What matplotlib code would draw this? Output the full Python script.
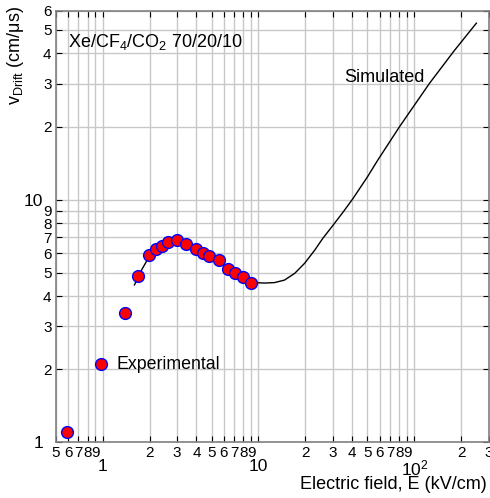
import matplotlib
matplotlib.use("Agg")
import matplotlib.pyplot as plt
from matplotlib.ticker import FixedLocator, FixedFormatter

plt.rcParams['font.family'] = ['Liberation Sans', 'DejaVu Sans']

# experimental points (kV/cm, cm/us)
exp_E = [0.59, 0.98, 1.39, 1.68, 1.98, 2.20, 2.39, 2.63, 2.98, 3.42, 4.0, 4.42,
         4.82, 5.59, 6.39, 7.02, 7.97, 9.02]
exp_v = [1.10, 2.10, 3.41, 4.84, 5.91, 6.24, 6.44, 6.71, 6.80, 6.56, 6.28, 6.01,
         5.86, 5.62, 5.18, 5.00, 4.78, 4.52]

# simulated curve
sim_E = [1.6, 1.8, 2.0, 2.3, 2.6, 2.9, 3.3, 3.8, 4.5, 5.3, 6.3, 7.5, 9.0, 10.0,
         11.0, 12.7, 14.7, 17.1, 19.8, 23.0, 25.9, 29.4, 35, 40.4, 50, 58.5,
         80.5, 125, 180, 250]
sim_v = [4.45, 5.2, 5.85, 6.4, 6.75, 6.85, 6.72, 6.4, 6.0, 5.62, 5.22, 4.87,
         4.57, 4.54, 4.53, 4.55, 4.66, 4.97, 5.47, 6.2, 6.93, 7.69, 8.9, 10.1,
         12.4, 14.6, 20.0, 30.1, 41, 53.3]

x_major = [1, 10, 100]
x_major_labels = ['1', '10', r'$\mathregular{10^2}$']
x_minor = [0.5, 0.6, 0.7, 0.8, 0.9, 2, 3, 4, 5, 6, 7, 8, 9,
           20, 30, 40, 50, 60, 70, 80, 90, 200, 300]
x_minor_labels = ['5', '6', '7', '8', '9', '2', '3', '4', '5', '6', '7', '8', '9',
                  '2', '3', '4', '5', '6', '7', '8', '9', '2', '3']
y_major = [1, 10]
y_major_labels = ['1', '10']
y_minor = [2, 3, 4, 5, 6, 7, 8, 9, 20, 30, 40, 50, 60]
y_minor_labels = ['2', '3', '4', '5', '6', '7', '8', '9', '2', '3', '4', '5', '6']

fig = plt.figure(figsize=(4.9, 4.98), dpi=100)
ax = fig.add_axes([55.7 / 490, 1 - 442.3 / 498, 433 / 490, 431.6 / 498])
ax.set_xscale('log')
ax.set_yscale('log')
ax.set_xlim(0.5, 300)
ax.set_ylim(1, 60)

ax.xaxis.set_major_locator(FixedLocator(x_major))
ax.xaxis.set_major_formatter(FixedFormatter(x_major_labels))
ax.xaxis.set_minor_locator(FixedLocator(x_minor))
ax.xaxis.set_minor_formatter(FixedFormatter(x_minor_labels))
ax.yaxis.set_major_locator(FixedLocator(y_major))
ax.yaxis.set_major_formatter(FixedFormatter(y_major_labels))
ax.yaxis.set_minor_locator(FixedLocator(y_minor))
ax.yaxis.set_minor_formatter(FixedFormatter(y_minor_labels))

ax.grid(True, which='both', color='#c8c8c8', linewidth=1.0)
ax.set_axisbelow(True)
ax.tick_params(which='both', direction='in', top=True, right=True,
               length=4, width=0.8, color='black', labelsize=11)
ax.tick_params(axis='x', which='minor', pad=3)
ax.tick_params(axis='x', which='major', pad=12, labelsize=12.5)
ax.tick_params(axis='y', which='minor', pad=3)
ax.tick_params(axis='y', which='major', pad=9, labelsize=12.5)
for s in ax.spines.values():
    s.set_color('#808080')
    s.set_linewidth(1.2)

ax.plot(sim_E, sim_v, color='black', linewidth=1.0)
ax.plot(exp_E, exp_v, 'o', markerfacecolor='red', markeredgecolor='blue',
        markersize=8.5, markeredgewidth=1.0, linestyle='none')

ax.text(0.028, 0.927, r'Xe/CF$\mathregular{_4}$/CO$\mathregular{_2}$ 70/20/10',
        transform=ax.transAxes, fontsize=13, va='center', ha='left')
ax.text(35.7, 31.7, 'Simulated', fontsize=13, va='center', ha='left')
ax.text(1.22, 2.1, 'Experimental', fontsize=12.8, va='center', ha='left')

fig.text(15 / 490, 1 - 6 / 498, r'v$\mathregular{_{Drift}}$ (cm/$\mathregular{\mu}$s)',
         rotation=90, va='top', ha='center', fontsize=13)
fig.text(487 / 490, 1 - 484 / 498, 'Electric field, E (kV/cm)',
         va='center', ha='right', fontsize=13)

fig.savefig('out.png', dpi=100)
